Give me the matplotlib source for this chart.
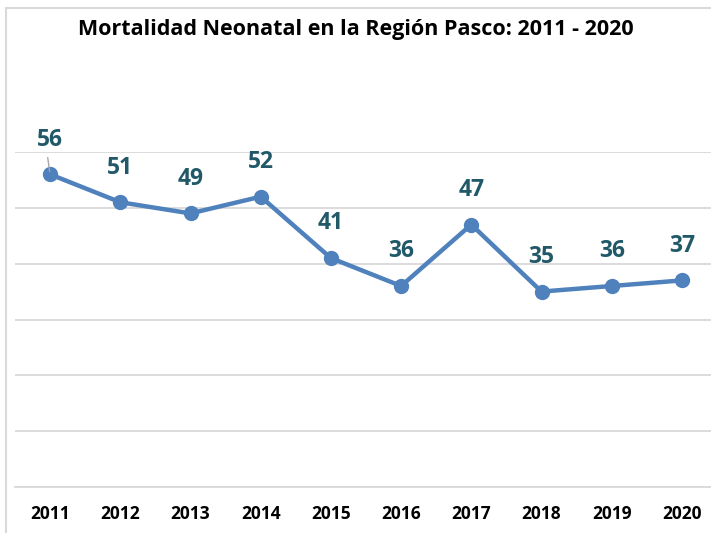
import matplotlib
matplotlib.use("Agg")
import matplotlib.pyplot as plt
import matplotlib.patches as mpatches

# Neonatal deaths, Pasco region
years = ["2011", "2012", "2013", "2014", "2015", "2016", "2017", "2018", "2019", "2020"]
deaths = [56, 51, 49, 52, 41, 36, 47, 35, 36, 37]

FONT = "Open Sans"
W, H = 711, 533
fig = plt.figure(figsize=(W / 100, H / 100), dpi=100)

# outer chart border (cut at right and bottom like the source)
fig.patches.append(mpatches.Rectangle((6 / W, -0.1), 1.0, (H - 8) / H + 0.1,
                                      transform=fig.transFigure, fill=False,
                                      edgecolor="#d9d9d9", linewidth=1.5))

# plot area: 15px..717px wide, 152px..487px high
ax = fig.add_axes([15 / W, 46 / H, 702 / W, 335 / H])
x = list(range(len(years)))
ax.plot(x, deaths, color="#4f81bd", linewidth=3.2, marker="o", markersize=10,
        zorder=3, clip_on=False)

ax.set_xlim(-0.5, len(years) - 0.5)
ax.set_ylim(0, 60)
ax.set_yticks(range(0, 61, 10))
ax.set_yticklabels([])
ax.tick_params(axis="y", length=0)
ax.tick_params(axis="x", length=0, pad=13)
ax.set_xticks(x)
ax.set_xticklabels(years, fontsize=12.5, fontweight="bold", family=FONT)
ax.grid(axis="y", color="#d9d9d9", linewidth=1.3, zorder=0)
for s in ["top", "right", "left"]:
    ax.spines[s].set_visible(False)
ax.spines["bottom"].set_color("#d9d9d9")
ax.spines["bottom"].set_linewidth(1.3)

for xi, v in zip(x, deaths):
    ax.annotate(str(v), (xi, v), xytext=(0, 25), textcoords="offset points",
                ha="center", va="center", fontsize=16.5, fontweight="bold",
                color="#215968", family=FONT, annotation_clip=False)

# leader line for the first label
ax.annotate("", (x[0], deaths[0]), xytext=(-2, 14), textcoords="offset points",
            arrowprops=dict(arrowstyle="-", color="#a6a6a6", linewidth=1))

fig.text(0.5, (H - 30) / H, "Mortalidad Neonatal en la Región Pasco: 2011 - 2020",
         ha="center", va="center", fontsize=15.5, fontweight="bold", family=FONT)

fig.savefig("out.png", dpi=100)
